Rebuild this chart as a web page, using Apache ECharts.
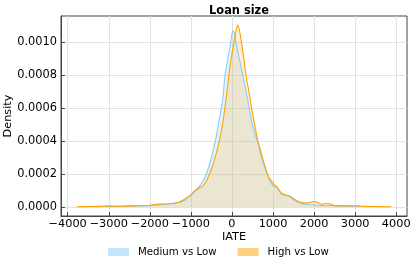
<!DOCTYPE html>
<html>
<head>
<meta charset="utf-8">
<script src="https://cdn.jsdelivr.net/npm/echarts@6/dist/echarts.min.js"></script>
<style>html,body{margin:0;padding:0;background:#fff;}#c{width:415px;height:266px;}</style>
</head>
<body>
<div id="c"></div>
<script>
const titleText = 'Loan size';
const xName = 'IATE';
const yName = 'Density';
const seriesNames = ['Medium vs Low', 'High vs Low'];
const xTicks = [-4000, -3000, -2000, -1000, 0, 1000, 2000, 3000, 4000];
const yTicks = [0, 0.0002, 0.0004, 0.0006, 0.0008, 0.0010];

const mediumX = [-3300,-3000,-2700,-2400,-2200,-2000,-1800,-1600,-1400,-1200,-1080,-1000,-900,-800,-670,-550,-410,-285,-225,-165,-100,-50,0,25,50,90,130,180,260,380,445,530,625,720,820,940,1000,1100,1200,1300,1400,1500,1600,1700,1800,2000,2200,2400,2600,2800,3000,3100];
const mediumY = [0.000001,0.000003,0.000004,0.000008,0.000007,0.000008,0.000012,0.000016,0.000022,0.000033,0.000052,0.00007,0.000095,0.000123,0.000173,0.000253,0.000394,0.000564,0.000654,0.000805,0.0009,0.00097,0.00105,0.00107,0.00106,0.00101,0.00096,0.0009,0.000805,0.000654,0.000564,0.00047,0.000394,0.0003,0.000225,0.00015,0.00013,0.000115,0.00008,0.00007,0.000063,0.000045,0.000028,0.00002,0.000015,0.000012,0.000008,0.000009,0.000006,0.000005,0.000006,0.000003];

const highX = [-3780,-3500,-3200,-3000,-2800,-2500,-2200,-2000,-1800,-1600,-1400,-1300,-1200,-1100,-1000,-900,-800,-700,-600,-500,-400,-300,-200,-100,-50,0,50,100,140,200,250,300,340,400,500,600,640,700,800,900,1000,1100,1200,1300,1400,1500,1600,1700,1800,1900,2000,2100,2200,2300,2400,2500,2700,3000,3100,3200,3500,3880];
const highY = [0.000001,0.000002,0.000003,0.000006,0.000004,0.000005,0.000008,0.00001,0.000017,0.000018,0.000022,0.000028,0.00004,0.000058,0.000075,0.0001,0.000115,0.00013,0.00017,0.00023,0.00031,0.00041,0.00055,0.00075,0.00085,0.00093,0.001,0.00107,0.001105,0.00105,0.00097,0.00088,0.000805,0.00072,0.00057,0.00044,0.00039,0.00034,0.00025,0.00018,0.000145,0.00012,0.000085,0.000073,0.000068,0.00005,0.000035,0.000028,0.000024,0.000026,0.000033,0.000025,0.000015,0.000022,0.000018,0.000008,0.000006,0.000007,0.000006,0.000003,0.000002,0.000001];

const pair = (xs, ys) => xs.map((x, i) => [x, ys[i]]);
const font = 'DejaVu Sans';
const fmtX = v => v < 0 ? '\u2212' + Math.abs(v) : String(v);

const chart = echarts.init(document.getElementById('c'), null, {renderer: 'canvas'});
chart.setOption({
  animation: false,
  backgroundColor: '#ffffff',
  title: {
    text: titleText, left: 234, top: 1, textAlign: 'center',
    textStyle: {fontFamily: font, fontSize: 11.4, fontWeight: 'bold', color: '#000'}
  },
  legend: {
    left: 103, top: 242,
    itemWidth: 21, itemHeight: 8, itemGap: 21, icon: 'rect',
    textStyle: {fontFamily: font, fontSize: 10.2, color: '#000', padding: [0, 0, 0, 4]},
    data: [
      {name: seriesNames[0], itemStyle: {color: 'rgba(135,206,250,0.5)', borderWidth: 0}},
      {name: seriesNames[1], itemStyle: {color: 'rgba(255,165,0,0.5)', borderWidth: 0}}
    ]
  },
  grid: {left: 61, right: 8, top: 16, bottom: 50, show: true, borderColor: '#444', borderWidth: 1, containLabel: false, outerBoundsMode: 'none'},
  xAxis: {
    type: 'value', min: -4163, max: 4263,
    name: xName, nameLocation: 'middle', nameGap: 16, nameMoveOverlap: false,
    nameTextStyle: {fontFamily: font, fontSize: 11.3, color: '#000'},
    axisLine: {show: true, onZero: false, lineStyle: {color: '#444'}},
    axisTick: {show: true, inside: true, length: 4, customValues: xTicks, lineStyle: {color: '#444'}},
    axisLabel: {customValues: xTicks, formatter: fmtX, fontFamily: font, fontSize: 11.3, color: '#000', margin: 3, hideOverlap: false},
    splitLine: {show: true, lineStyle: {color: '#e3e3e3', width: 1}}
  },
  yAxis: {
    type: 'value', min: -0.0000553, max: 0.00116,
    name: yName, nameLocation: 'middle', nameGap: 47, nameRotate: 90, nameMoveOverlap: false,
    nameTextStyle: {fontFamily: font, fontSize: 11.3, color: '#000'},
    axisLine: {show: true, onZero: false, lineStyle: {color: '#444'}},
    axisTick: {show: true, inside: true, length: 4, customValues: yTicks, lineStyle: {color: '#444'}},
    axisLabel: {customValues: yTicks, formatter: v => v.toFixed(4), fontFamily: font, fontSize: 11.4, color: '#000', margin: 4},
    splitLine: {show: true, lineStyle: {color: '#e3e3e3', width: 1}}
  },
  series: [
    {
      name: seriesNames[0], type: 'line', smooth: 0.3, showSymbol: false,
      data: pair(mediumX, mediumY),
      itemStyle: {color: 'rgba(135,206,250,0.5)'},
      lineStyle: {color: '#87CEFA', width: 1.1},
      areaStyle: {color: 'rgba(135,206,250,0.3)'}
    },
    {
      name: seriesNames[1], type: 'line', smooth: 0.3, showSymbol: false,
      data: pair(highX, highY),
      itemStyle: {color: 'rgba(255,165,0,0.5)'},
      lineStyle: {color: '#FFA500', width: 1.1},
      areaStyle: {color: 'rgba(255,165,0,0.25)'}
    }
  ]
});
</script>
</body>
</html>
